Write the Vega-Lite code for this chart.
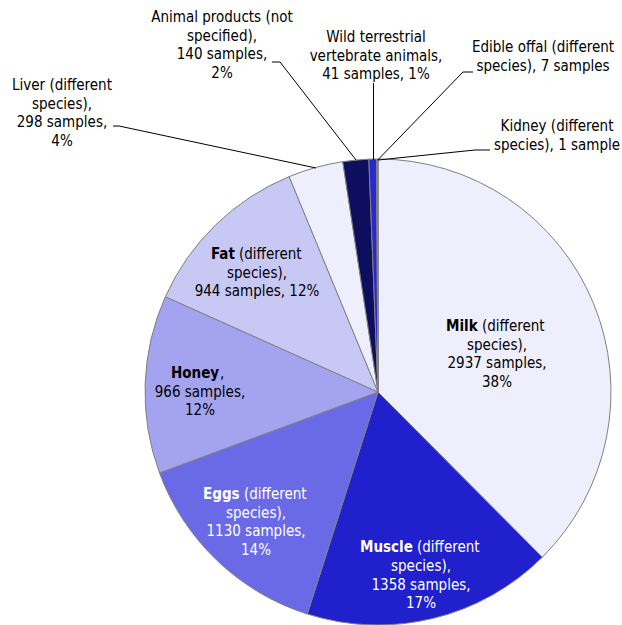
{
  "$schema": "https://vega.github.io/schema/vega-lite/v6.json",
  "width": 466,
  "height": 466,
  "autosize": {"type": "none"},
  "padding": {"left": 145, "top": 159, "right": 11, "bottom": 0},
  "background": "white",
  "config": {
    "view": {"stroke": null},
    "text": {"font": "DejaVu Sans Condensed", "fontSize": 15}
  },
  "datasets": {
    "slices": [
      {"idx": 1, "category": "Milk (different species)", "samples": 2937},
      {"idx": 2, "category": "Muscle (different species)", "samples": 1358},
      {"idx": 3, "category": "Eggs (different species)", "samples": 1130},
      {"idx": 4, "category": "Honey", "samples": 966},
      {"idx": 5, "category": "Fat (different species)", "samples": 944},
      {"idx": 6, "category": "Liver (different species)", "samples": 298},
      {"idx": 7, "category": "Animal products (not specified)", "samples": 140},
      {"idx": 8, "category": "Wild terrestrial vertebrate animals", "samples": 41},
      {"idx": 9, "category": "Edible offal (different species)", "samples": 7},
      {"idx": 10, "category": "Kidney (different species)", "samples": 1}
    ],
    "leaders": [
      {"id": "Liver", "pt": 1, "x": -265, "y": -266},
      {"id": "Liver", "pt": 2, "x": -259, "y": -266},
      {"id": "Liver", "pt": 3, "x": -62, "y": -224},
      {"id": "Animal", "pt": 1, "x": -106, "y": -330},
      {"id": "Animal", "pt": 2, "x": -98, "y": -330},
      {"id": "Animal", "pt": 3, "x": -22, "y": -232},
      {"id": "Wild", "pt": 1, "x": -4.5, "y": -309},
      {"id": "Wild", "pt": 2, "x": -4.5, "y": -232},
      {"id": "Edible", "pt": 1, "x": 95, "y": -320},
      {"id": "Edible", "pt": 2, "x": 85, "y": -320},
      {"id": "Edible", "pt": 3, "x": -0.3, "y": -232},
      {"id": "Kidney", "pt": 1, "x": 112, "y": -242},
      {"id": "Kidney", "pt": 2, "x": 97, "y": -242},
      {"id": "Kidney", "pt": 3, "x": 0, "y": -232}
    ],
    "labels": [
      {"slice": "Animal", "role": "center", "text": "Animal products (not", "x": -156, "y": -375},
      {"slice": "Animal", "role": "center", "text": "specified),", "x": -156, "y": -356.5},
      {"slice": "Animal", "role": "center", "text": "140 samples,", "x": -156, "y": -338},
      {"slice": "Animal", "role": "center", "text": "2%", "x": -156, "y": -319.5},
      {"slice": "Wild", "role": "center", "text": "Wild terrestrial", "x": -2, "y": -355},
      {"slice": "Wild", "role": "center", "text": "vertebrate animals,", "x": -2, "y": -336.5},
      {"slice": "Wild", "role": "center", "text": "41 samples, 1%", "x": -2, "y": -318},
      {"slice": "Edible", "role": "center", "text": "Edible offal (different", "x": 165, "y": -345},
      {"slice": "Edible", "role": "center", "text": "species), 7 samples", "x": 165, "y": -326.5},
      {"slice": "Liver", "role": "center", "text": "Liver (different", "x": -316, "y": -307},
      {"slice": "Liver", "role": "center", "text": "species),", "x": -316, "y": -288.5},
      {"slice": "Liver", "role": "center", "text": "298 samples,", "x": -316, "y": -270},
      {"slice": "Liver", "role": "center", "text": "4%", "x": -316, "y": -251.5},
      {"slice": "Kidney", "role": "center", "text": "Kidney (different", "x": 179, "y": -266},
      {"slice": "Kidney", "role": "center", "text": "species), 1 sample", "x": 179, "y": -247.5},
      {"slice": "Milk", "role": "bold", "text": "Milk", "x": 68, "y": -66},
      {"slice": "Milk", "role": "lead", "text": "(different", "x": 104, "y": -66},
      {"slice": "Milk", "role": "center", "text": "species),", "x": 119, "y": -47.5},
      {"slice": "Milk", "role": "center", "text": "2937 samples,", "x": 119, "y": -29},
      {"slice": "Milk", "role": "center", "text": "38%", "x": 119, "y": -10.5},
      {"slice": "Fat", "role": "bold", "text": "Fat", "x": -167, "y": -138},
      {"slice": "Fat", "role": "lead", "text": "(different", "x": -139, "y": -138},
      {"slice": "Fat", "role": "center", "text": "species),", "x": -121, "y": -119.5},
      {"slice": "Fat", "role": "center", "text": "944 samples, 12%", "x": -121, "y": -101},
      {"slice": "Honey", "role": "bold", "text": "Honey", "x": -207, "y": -19},
      {"slice": "Honey", "role": "lead", "text": ",", "x": -158, "y": -19},
      {"slice": "Honey", "role": "center", "text": "966 samples,", "x": -178, "y": -0.5},
      {"slice": "Honey", "role": "center", "text": "12%", "x": -178, "y": 18},
      {"slice": "Eggs", "role": "bold", "text": "Eggs", "x": -175, "y": 102},
      {"slice": "Eggs", "role": "lead", "text": "(different", "x": -134, "y": 102},
      {"slice": "Eggs", "role": "center", "text": "species),", "x": -122, "y": 120.5},
      {"slice": "Eggs", "role": "center", "text": "1130 samples,", "x": -122, "y": 139},
      {"slice": "Eggs", "role": "center", "text": "14%", "x": -122, "y": 157.5},
      {"slice": "Muscle", "role": "bold", "text": "Muscle", "x": -18, "y": 155},
      {"slice": "Muscle", "role": "lead", "text": "(different", "x": 39, "y": 155},
      {"slice": "Muscle", "role": "center", "text": "species),", "x": 43, "y": 174},
      {"slice": "Muscle", "role": "center", "text": "1358 samples,", "x": 43, "y": 192.5},
      {"slice": "Muscle", "role": "center", "text": "17%", "x": 43, "y": 211}
    ]
  },
  "layer": [
    {
      "data": {"name": "slices"},
      "mark": {"type": "arc", "stroke": "#808080", "strokeWidth": 1},
      "encoding": {
        "theta": {"field": "samples", "type": "quantitative", "stack": true},
        "order": {"field": "idx", "type": "quantitative"},
        "color": {
          "field": "category",
          "type": "nominal",
          "legend": null,
          "scale": {
            "domain": [
              "Milk (different species)",
              "Muscle (different species)",
              "Eggs (different species)",
              "Honey",
              "Fat (different species)",
              "Liver (different species)",
              "Animal products (not specified)",
              "Wild terrestrial vertebrate animals",
              "Edible offal (different species)",
              "Kidney (different species)"
            ],
            "range": ["#eeeefc", "#2020cc", "#6a6ae6", "#a3a3ef", "#c8c8f5", "#eeeefc", "#0e0e5e", "#2828d0", "#6a6ae6", "#a3a3ef"]
          }
        }
      }
    },
    {
      "data": {"name": "leaders"},
      "mark": {"type": "line", "color": "#000000", "strokeWidth": 1},
      "encoding": {
        "x": {"field": "x", "type": "quantitative", "axis": null, "scale": {"domain": [-233, 233], "nice": false, "zero": false}},
        "y": {"field": "y", "type": "quantitative", "axis": null, "scale": {"domain": [-233, 233], "nice": false, "zero": false, "reverse": true}},
        "detail": {"field": "id", "type": "nominal"},
        "order": {"field": "pt", "type": "quantitative"}
      }
    },
    {
      "data": {"name": "labels"},
      "transform": [{"filter": "datum.role === 'center'"}],
      "mark": {"type": "text", "align": "center", "baseline": "middle"},
      "encoding": {
        "x": {"field": "x", "type": "quantitative", "axis": null, "scale": {"domain": [-233, 233], "nice": false, "zero": false}},
        "y": {"field": "y", "type": "quantitative", "axis": null, "scale": {"domain": [-233, 233], "nice": false, "zero": false, "reverse": true}},
        "text": {"field": "text"},
        "color": {"condition": {"test": "datum.slice === 'Eggs' || datum.slice === 'Muscle'", "value": "#ffffff"}, "value": "#000000"}
      }
    },
    {
      "data": {"name": "labels"},
      "transform": [{"filter": "datum.role === 'lead'"}],
      "mark": {"type": "text", "align": "left", "baseline": "middle"},
      "encoding": {
        "x": {"field": "x", "type": "quantitative", "axis": null, "scale": {"domain": [-233, 233], "nice": false, "zero": false}},
        "y": {"field": "y", "type": "quantitative", "axis": null, "scale": {"domain": [-233, 233], "nice": false, "zero": false, "reverse": true}},
        "text": {"field": "text"},
        "color": {"condition": {"test": "datum.slice === 'Eggs' || datum.slice === 'Muscle'", "value": "#ffffff"}, "value": "#000000"}
      }
    },
    {
      "data": {"name": "labels"},
      "transform": [{"filter": "datum.role === 'bold'"}],
      "mark": {"type": "text", "align": "left", "baseline": "middle", "fontWeight": "bold"},
      "encoding": {
        "x": {"field": "x", "type": "quantitative", "axis": null, "scale": {"domain": [-233, 233], "nice": false, "zero": false}},
        "y": {"field": "y", "type": "quantitative", "axis": null, "scale": {"domain": [-233, 233], "nice": false, "zero": false, "reverse": true}},
        "text": {"field": "text"},
        "color": {"condition": {"test": "datum.slice === 'Eggs' || datum.slice === 'Muscle'", "value": "#ffffff"}, "value": "#000000"}
      }
    }
  ]
}
